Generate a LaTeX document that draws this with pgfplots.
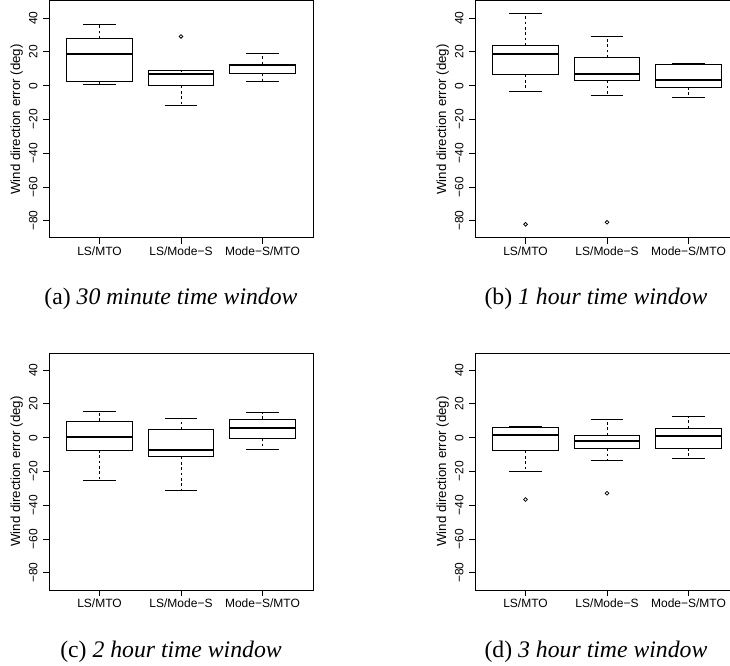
\documentclass[border=0pt]{standalone}
\usepackage{pgfplots}
\pgfplotsset{compat=1.18}
\usepgfplotslibrary{statistics}
\usepackage{fontspec}
\setmainfont{Liberation Sans}
\newfontfamily\capfont{Liberation Serif}

\pgfplotsset{
  boxplot/draw/whisker/.code 2 args={%
    \draw[line width=0.75bp, dash pattern=on 2bp off 2bp] (boxplot cs:#1) -- (boxplot cs:#2);
    \draw[line width=0.75bp, solid] (boxplot whisker cs:#2,0) -- (boxplot whisker cs:#2,1);
  },
}
\pgfplotsset{
  rpanel/.style={
    scale only axis,
    width=198bp, height=177.75bp,
    anchor=south west,
    xmin=0.38, xmax=3.62,
    ymin=-90.2, ymax=50.2,
    xtick={1,2,3},
    xticklabels={LS/MTO, LS/Mode−S, Mode−S/MTO},
    ytick={-80,-60,-40,-20,0,20,40},
    yticklabels={−80,−60,−40,−20,0,20,40},
    minor tick num=0,
    tick pos=left,
    tick align=outside,
    major tick length=4.5bp,
    tick style={black, line width=0.75bp},
    axis line style={line width=0.75bp},
    tick label style={font=\fontsize{9bp}{10bp}\selectfont},
    label style={font=\fontsize{9bp}{10bp}\selectfont},
    yticklabel style={rotate=90, anchor=south, inner sep=0pt},
    xticklabel style={anchor=north, inner sep=0pt},
    yticklabel shift=4bp,
    xticklabel shift=2bp,
    ylabel={Wind direction error (deg)},
    every axis y label/.style={at={(axis description cs:-0.122,0.5)}, rotate=90, anchor=center},
    clip=false,
    boxplot/draw direction=y,
    boxplot/box extend=0.8,
    boxplot/whisker extend=0.4,
    boxplot/every median/.style={line width=1.7bp},
  },
  rbp/.style={black, solid, line width=0.75bp},
  rout/.style={black, only marks, mark=o, mark size=1.4bp, mark options={line width=0.6bp}},
}

\begin{document}
\begin{tikzpicture}
\useasboundingbox (0,0) rectangle (547.5bp,499.5bp);

% (a) 30 minute
\begin{axis}[rpanel, at={(36.75bp,321bp)}]
\addplot[rbp, boxplot prepared={draw position=1, lower whisker=1.0, lower quartile=2.8, median=18.9, upper quartile=27.8, upper whisker=36.5}] coordinates {};
\addplot[rbp, boxplot prepared={draw position=2, lower whisker=-11.9, lower quartile=0.0, median=6.8, upper quartile=8.75, upper whisker=8.9}] coordinates {};
\addplot[rbp, boxplot prepared={draw position=3, lower whisker=2.6, lower quartile=7.4, median=12.1, upper quartile=12.7, upper whisker=19.0}] coordinates {};
\addplot[rout] coordinates {(2,29.2)};
\end{axis}

% (b) 1 hour
\begin{axis}[rpanel, at={(356.25bp,321bp)}]
\addplot[rbp, boxplot prepared={draw position=1, lower whisker=-3.2, lower quartile=6.5, median=18.9, upper quartile=23.8, upper whisker=42.5}] coordinates {};
\addplot[rbp, boxplot prepared={draw position=2, lower whisker=-6.0, lower quartile=3.2, median=7.1, upper quartile=16.7, upper whisker=29.4}] coordinates {};
\addplot[rbp, boxplot prepared={draw position=3, lower whisker=-6.9, lower quartile=-0.8, median=3.2, upper quartile=12.7, upper whisker=13.1}] coordinates {};
\addplot[rout] coordinates {(1,-82.1) (2,-80.9)};
\end{axis}

% (c) 2 hour
\begin{axis}[rpanel, at={(36.75bp,57bp)}]
\addplot[rbp, boxplot prepared={draw position=1, lower whisker=-25.5, lower quartile=-7.3, median=0.6, upper quartile=9.9, upper whisker=15.8}] coordinates {};
\addplot[rbp, boxplot prepared={draw position=2, lower whisker=-31.3, lower quartile=-11.3, median=-7.3, upper quartile=4.75, upper whisker=11.5}] coordinates {};
\addplot[rbp, boxplot prepared={draw position=3, lower whisker=-7.1, lower quartile=-0.4, median=5.7, upper quartile=11.1, upper whisker=14.9}] coordinates {};
\end{axis}

% (d) 3 hour
\begin{axis}[rpanel, at={(356.25bp,57bp)}]
\addplot[rbp, boxplot prepared={draw position=1, lower whisker=-20.0, lower quartile=-7.7, median=1.6, upper quartile=6.3, upper whisker=6.9}] coordinates {};
\addplot[rbp, boxplot prepared={draw position=2, lower whisker=-13.5, lower quartile=-6.3, median=-1.8, upper quartile=1.4, upper whisker=11.1}] coordinates {};
\addplot[rbp, boxplot prepared={draw position=3, lower whisker=-12.3, lower quartile=-6.1, median=1.0, upper quartile=5.5, upper whisker=12.5}] coordinates {};
\addplot[rout] coordinates {(1,-36.6) (2,-32.9)};
\end{axis}

\begin{scope}[every node/.style={font=\capfont\fontsize{17.8bp}{20bp}\selectfont, anchor=base, inner sep=0pt}]
\node at (128.25bp,271.1bp) {(a) \textit{30 minute time window}};
\node at (447bp,271.1bp) {(b) \textit{1 hour time window}};
\node at (128.25bp,6.75bp) {(c) \textit{2 hour time window}};
\node at (447bp,6.75bp) {(d) \textit{3 hour time window}};
\end{scope}
\end{tikzpicture}
\end{document}
